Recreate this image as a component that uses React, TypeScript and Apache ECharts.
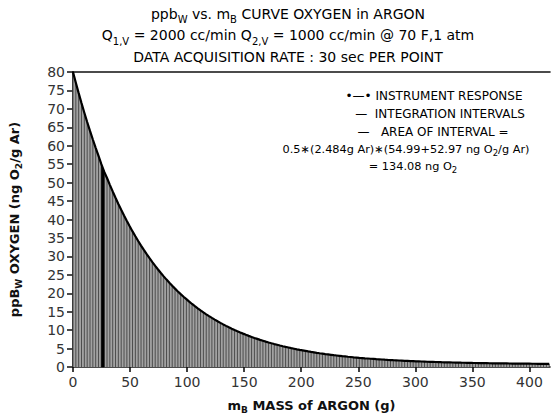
import React, { useEffect, useRef } from "react";
import * as echarts from "echarts";

// mass of argon at each acquisition point (g)
const massG = [
  0, 2.48, 4.97, 7.45, 9.94, 12.42, 14.9, 17.39, 19.87, 22.36, 24.84,
  27.32, 29.81, 32.29, 34.78, 37.26, 39.74, 42.23, 44.71, 47.2, 49.68,
  52.16, 54.65, 57.13, 59.62, 62.1, 64.58, 67.07, 69.55, 72.04, 74.52,
  77.0, 79.49, 81.97, 84.46, 86.94, 89.42, 91.91, 94.39, 96.88, 99.36,
  101.84, 104.33, 106.81, 109.3, 111.78, 114.26, 116.75, 119.23, 121.72, 124.2,
  126.68, 129.17, 131.65, 134.14, 136.62, 139.1, 141.59, 144.07, 146.56, 149.04,
  151.52, 154.01, 156.49, 158.98, 161.46, 163.94, 166.43, 168.91, 171.4, 173.88,
  176.36, 178.85, 181.33, 183.82, 186.3, 188.78, 191.27, 193.75, 196.24, 198.72,
  201.2, 203.69, 206.17, 208.66, 211.14, 213.62, 216.11, 218.59, 221.08, 223.56,
  226.04, 228.53, 231.01, 233.5, 235.98, 238.46, 240.95, 243.43, 245.92, 248.4,
  250.88, 253.37, 255.85, 258.34, 260.82, 263.3, 265.79, 268.27, 270.76, 273.24,
  275.72, 278.21, 280.69, 283.18, 285.66, 288.14, 290.63, 293.11, 295.6, 298.08,
  300.56, 303.05, 305.53, 308.02, 310.5, 312.98, 315.47, 317.95, 320.44, 322.92,
  325.4, 327.89, 330.37, 332.86, 335.34, 337.82, 340.31, 342.79, 345.28, 347.76,
  350.24, 352.73, 355.21, 357.7, 360.18, 362.66, 365.15, 367.63, 370.12, 372.6,
  375.08, 377.57, 380.05, 382.54, 385.02, 387.5, 389.99, 392.47, 394.96, 397.44,
  399.92, 402.41, 404.89, 407.38, 409.86, 412.34, 414.83, 417.31,
];

// instrument response, ppbW oxygen (ng O2 / g Ar)
const ppbW = [
  80.0, 77.08, 74.27, 71.56, 68.95, 66.44, 64.02, 61.69, 59.44, 57.28, 54.99,
  52.97, 51.26, 49.4, 47.61, 45.88, 44.22, 42.62, 41.07, 39.59, 38.15,
  36.77, 35.45, 34.17, 32.93, 31.75, 30.6, 29.5, 28.44, 27.42, 26.44,
  25.49, 24.58, 23.7, 22.85, 22.03, 21.25, 20.49, 19.76, 19.06, 18.39,
  17.72, 17.09, 16.49, 15.91, 15.35, 14.81, 14.29, 13.79, 13.31, 12.84,
  12.4, 11.97, 11.55, 11.15, 10.77, 10.4, 10.04, 9.7, 9.37, 9.05,
  8.74, 8.44, 8.16, 7.88, 7.62, 7.36, 7.12, 6.88, 6.65, 6.43,
  6.22, 6.02, 5.82, 5.63, 5.45, 5.28, 5.11, 4.95, 4.79, 4.64,
  4.5, 4.36, 4.22, 4.09, 3.97, 3.85, 3.73, 3.62, 3.51, 3.41,
  3.31, 3.21, 3.12, 3.03, 2.94, 2.86, 2.78, 2.71, 2.63, 2.56,
  2.49, 2.43, 2.36, 2.3, 2.24, 2.19, 2.13, 2.08, 2.03, 1.98,
  1.93, 1.89, 1.84, 1.8, 1.76, 1.72, 1.68, 1.65, 1.61, 1.58,
  1.55, 1.52, 1.49, 1.46, 1.43, 1.4, 1.38, 1.35, 1.33, 1.3,
  1.28, 1.26, 1.24, 1.22, 1.2, 1.18, 1.16, 1.15, 1.13, 1.12,
  1.1, 1.09, 1.07, 1.06, 1.04, 1.03, 1.02, 1.01, 1.0, 0.99,
  0.97, 0.96, 0.96, 0.95, 0.94, 0.93, 0.92, 0.91, 0.9, 0.9,
  0.89, 0.88, 0.88, 0.87, 0.86, 0.86, 0.85, 0.85,
];

// the highlighted interval (indices into the arrays above)
const highlightedInterval = [10, 11];

const titleLines = [
  "{t|ppb}{s|W}{t| vs. m}{s|B}{t| CURVE OXYGEN in ARGON}",
  "{t|Q}{s|1,V}{t| = 2000 cc/min Q}{s|2,V}{t| = 1000 cc/min @ 70 F,1 atm}",
  "{t|DATA ACQUISITION RATE : 30 sec PER POINT}",
];

const noteLines = [
  "{t|•—• INSTRUMENT RESPONSE}",
  "{t|—  INTEGRATION INTERVALS}",
  "{t|—   AREA OF INTERVAL =}",
  "{u|0.5∗(2.484g Ar)∗(54.99+52.97 ng O}{v|2}{u|/g Ar)}",
  "{u|= 134.08 ng O}{v|2}",
];

const xName = "{b|m}{s|B}{b| MASS of ARGON (g)}";
const yName = "{b|ppB}{s|W}{b| OXYGEN (ng O}{s|2}{b|/g Ar)}";

const FONT = "DejaVu Sans";

export default function App() {
  const ref = useRef<HTMLDivElement>(null);

  useEffect(() => {
    if (!ref.current) return;
    document.body.style.margin = "0";
    const chart = echarts.init(ref.current, null, { renderer: "svg" });

    const points = massG.map((m, i) => [m, ppbW[i]]);
    const [a, b] = highlightedInterval;
    const areaData = [[massG[a], ppbW[a], massG[b], ppbW[b]]];

    const titleRich = {
      t: { fontFamily: FONT, fontSize: 14, color: "#111", lineHeight: 21.5 },
      s: { fontFamily: FONT, fontSize: 10, color: "#111", lineHeight: 11, verticalAlign: "bottom" },
    };
    const noteRich = {
      t: { fontFamily: FONT, fontSize: 12, color: "#111" },
      u: { fontFamily: FONT, fontSize: 11.3, color: "#111", lineHeight: 16 },
      v: { fontFamily: FONT, fontSize: 8.5, color: "#111", lineHeight: 9, verticalAlign: "bottom" },
    };
    const noteX = [434, 440, 433, 406, 413];
    const noteY = [96, 114, 132, 149, 166];

    const graphics: any[] = titleLines.map((txt, i) => ({
      type: "text",
      x: 288,
      y: 3 + i * 21.5,
      style: { text: txt, rich: titleRich, align: "center", verticalAlign: "top" },
    }));
    noteLines.forEach((txt, i) => {
      graphics.push({
        type: "text",
        x: noteX[i],
        y: noteY[i],
        style: { text: txt, rich: noteRich, align: "center", verticalAlign: "middle" },
      });
    });

    chart.setOption({
      animation: false,
      backgroundColor: "#fff",
      grid: { left: 70, right: 1, top: 72, bottom: 49 },
      graphic: graphics,
      xAxis: [
        {
          type: "value",
          min: 0,
          max: 418,
          interval: 50,
          position: "bottom",
          axisLine: { show: true, onZero: false, lineStyle: { color: "#111", width: 1.6 } },
          axisTick: { show: true, length: 5, lineStyle: { color: "#111", width: 1.6 } },
          axisLabel: {
            fontFamily: FONT,
            fontSize: 14,
            color: "#333",
            margin: 8,
            showMaxLabel: false,
          },
          splitLine: { show: false },
          name: xName,
          nameLocation: "middle",
          nameGap: 30,
          nameTextStyle: {
            rich: {
              b: { fontFamily: FONT, fontSize: 13, fontWeight: "bold", color: "#111", lineHeight: 17 },
              s: { fontFamily: FONT, fontSize: 9, fontWeight: "bold", color: "#111", lineHeight: 9, verticalAlign: "bottom" },
            },
          },
        },
        {
          type: "value",
          min: 0,
          max: 418,
          position: "top",
          axisLine: { show: true, onZero: false, lineStyle: { color: "#111", width: 1.6 } },
          axisTick: { show: false },
          axisLabel: { show: false },
          splitLine: { show: false },
        },
      ],
      yAxis: {
        type: "value",
        min: 0,
        max: 80,
        interval: 5,
        axisLine: { show: true, lineStyle: { color: "#111", width: 1.8 } },
        axisTick: { show: true, length: 6, lineStyle: { color: "#111", width: 1.5 } },
        axisLabel: { fontFamily: FONT, fontSize: 14, color: "#333", margin: 8 },
        splitLine: { show: false },
        name: yName,
        nameLocation: "middle",
        nameRotate: 90,
        nameGap: 50,
        nameTextStyle: {
          rich: {
            b: { fontFamily: FONT, fontSize: 13, fontWeight: "bold", color: "#111", lineHeight: 17 },
            s: { fontFamily: FONT, fontSize: 9, fontWeight: "bold", color: "#111", lineHeight: 9, verticalAlign: "bottom" },
          },
        },
      },
      series: [
        {
          type: "line",
          name: "fill",
          data: points,
          symbol: "none",
          lineStyle: { width: 0 },
          areaStyle: { color: "#a2a2a2", opacity: 1 },
          z: 1,
          silent: true,
        },
        {
          type: "custom",
          name: "INTEGRATION INTERVALS",
          data: points,
          encode: { x: 0, y: 1 },
          z: 2,
          silent: true,
          renderItem: (params: any, api: any) => {
            const x = api.value(0);
            const y = api.value(1);
            const p0 = api.coord([x, 0]);
            const p1 = api.coord([x, y]);
            return {
              type: "line",
              shape: { x1: p0[0], y1: p0[1], x2: p1[0], y2: p1[1] },
              style: { stroke: "#4d4d4d", lineWidth: 1 },
            };
          },
        },
        {
          type: "custom",
          name: "AREA OF INTERVAL",
          data: areaData,
          encode: { x: [0, 2], y: [1, 3] },
          z: 3,
          silent: true,
          renderItem: (params: any, api: any) => {
            const x1 = api.value(0);
            const y1 = api.value(1);
            const x2 = api.value(2);
            const y2 = api.value(3);
            const pts = [
              api.coord([x1, 0]),
              api.coord([x1, y1]),
              api.coord([x2, y2]),
              api.coord([x2, 0]),
            ];
            return {
              type: "polygon",
              shape: { points: pts },
              style: { fill: "#000", stroke: "#000", lineWidth: 0.5 },
            };
          },
        },
        {
          type: "line",
          name: "INSTRUMENT RESPONSE",
          data: points,
          symbol: "none",
          lineStyle: { color: "#000", width: 2.2 },
          z: 4,
          silent: true,
        },
      ],
    });

    return () => chart.dispose();
  }, []);

  return (
    <div
      ref={ref}
      style={{ position: "absolute", left: 0, top: 0, width: 551, height: 419 }}
    />
  );
}
